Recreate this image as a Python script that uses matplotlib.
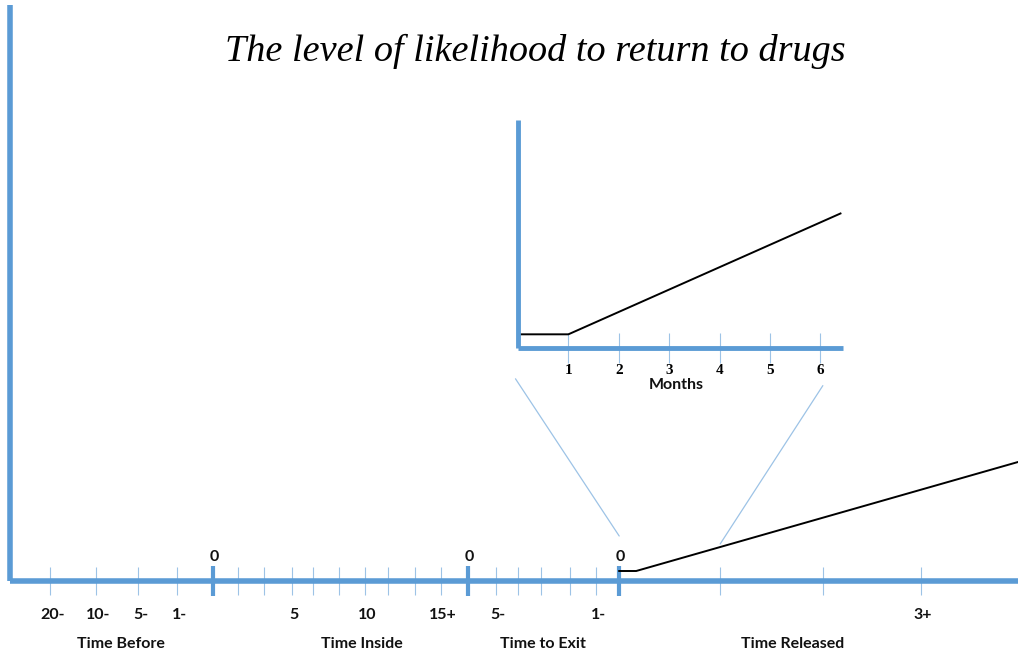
import matplotlib.pyplot as plt
from matplotlib.patches import ConnectionPatch

# main timeline (x in timeline units, 0 = left axis)
zero_ticks = [204, 459, 610]
thin_ticks = [41, 87, 129, 168,
              229, 255, 283, 304, 330, 356, 379, 406, 432,
              487, 509, 532, 561, 587,
              711, 814, 912]
num_ticks = [41, 87, 129, 168, 283, 356, 432, 487, 587, 912]
num_labels = ["20-", "10-", "5-", "1-", "5", "10", "15+", "5-", "1-", "3+"]
section_x = [111, 353, 534, 784]
section_labels = ["Time Before", "Time Inside", "Time to Exit", "Time Released"]

# likelihood after release, main chart
main_x = [610, 627, 1009]
main_y = [10, 10, 119]

# zoomed first months
months = [1, 2, 3, 4, 5, 6]
inset_x = [0, 1, 6.4]
inset_y = [0.6, 0.6, 5.9]

BLUE = "#5B9BD5"
LIGHT = "#9DC3E6"

fig = plt.figure(figsize=(10.18, 6.57), dpi=100)
W, H = 1018, 657

ax = fig.add_axes([9.5 / W, (H - 581) / H, (W - 9.5) / W, 576 / H])
ax.set_xlim(0, 1009)
ax.set_ylim(0, 576)
for s in ["top", "right"]:
    ax.spines[s].set_visible(False)
for s in ["left", "bottom"]:
    ax.spines[s].set_color(BLUE)
    ax.spines[s].set_linewidth(4)
    ax.spines[s].set_capstyle("butt")
ax.set_yticks([])
ax.set_xticks(zero_ticks)
ax.set_xticks(thin_ticks, minor=True)
ax.set_xticklabels([])
ax.tick_params(axis="x", which="major", direction="inout", length=21,
               width=3, color=BLUE)
ax.tick_params(axis="x", which="minor", direction="inout", length=20,
               width=0.8, color=LIGHT)
ax.patch.set_alpha(0)

ax.plot(main_x, main_y, color="black", lw=1.4, clip_on=False, zorder=5)

lab_font = dict(family="Lato", weight="bold", fontsize=11.5, color="#111111")
for x in zero_ticks:
    ax.annotate("0", (x, 0), xytext=(1, 17), textcoords="offset pixels",
                ha="center", va="bottom", **lab_font)
for x, t in zip(num_ticks, num_labels):
    ax.annotate(t, (x, 0), xytext=(2, -34), textcoords="offset pixels",
                ha="center", va="center", **lab_font)
for x, t in zip(section_x, section_labels):
    ax.annotate(t, (x, 0), xytext=(0, -63), textcoords="offset pixels",
                ha="center", va="center", **lab_font)

fig.text(535 / W, 1 - 51 / H, "The level of likelihood to return to drugs",
         family="Liberation Serif", style="italic", fontsize=27.5,
         ha="center", va="center")

# inset
iax = fig.add_axes([518 / W, (H - 348) / H, (843 - 518) / W, 228 / H])
iax.set_xlim(0, 6.45)
iax.set_ylim(0, 10)
for s in ["top", "right"]:
    iax.spines[s].set_visible(False)
for s in ["left", "bottom"]:
    iax.spines[s].set_color(BLUE)
    iax.spines[s].set_linewidth(3.5)
    iax.spines[s].set_capstyle("butt")
iax.set_yticks([])
iax.set_xticks(months)
iax.set_xticklabels([str(m) for m in months], family="Liberation Serif",
                    weight="bold", fontsize=11)
iax.tick_params(axis="x", direction="inout", length=21, width=0.8,
                color=LIGHT, pad=1)
iax.patch.set_alpha(0)
iax.plot(inset_x, inset_y, color="black", lw=1.4, clip_on=False)
iax.annotate("Months", (3.15, 0), xytext=(0, -37), textcoords="offset pixels",
             ha="center", va="center", **lab_font)

# connector lines
for (xa, ya), (xb, yb) in [((-0.05, -1.35), (610, 45)),
                           ((6.05, -1.65), (711, 37))]:
    con = ConnectionPatch(xyA=(xa, ya), coordsA=iax.transData,
                          xyB=(xb, yb), coordsB=ax.transData,
                          color=LIGHT, lw=0.9)
    fig.add_artist(con)

fig.savefig("out.png", dpi=100)
